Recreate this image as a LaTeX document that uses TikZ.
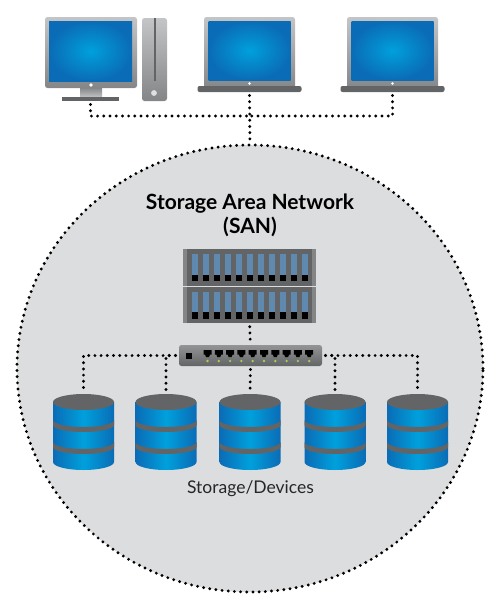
\documentclass[tikz,border=0pt]{standalone}
\usepackage{fontspec}
\setmainfont{Lato}
\usetikzlibrary{shapes.geometric}
\definecolor{sanfill}{HTML}{DCDDDF}
\definecolor{scrmid}{HTML}{00A0DC}
\definecolor{scredge}{HTML}{0A6CB6}
\definecolor{dkgray}{HTML}{636466}
\definecolor{ltgray}{HTML}{C4C5C7}
\definecolor{mdgray}{HTML}{848587}
\definecolor{bladeblue}{HTML}{5F89AE}
\definecolor{ledgreen}{HTML}{A6D24E}

\begin{document}
\begin{tikzpicture}[
  x=1pt, y=-1pt,
  casing/.style={shape=rectangle, top color=ltgray, bottom color=mdgray, rounded corners=2.5pt,
    inner sep=0pt, outer sep=0pt},
  screen/.style={shape=rectangle, inner color=scrmid, outer color=scredge, inner sep=0pt, outer sep=0pt},
  foot/.style={shape=rectangle, fill=dkgray, inner sep=0pt, outer sep=0pt},
  rack/.style={shape=rectangle, fill=dkgray, inner sep=0pt, outer sep=0pt,
    minimum width=133pt, minimum height=36.5pt},
  dots/.style={line width=3.2pt, line cap=round, dash pattern=on 0pt off 6.2pt, black},
  wire/.style={dots, shorten <=3.5pt, shorten >=2pt},
  dbstack/.pic={
    \path[left color=scredge, right color=scredge, middle color=scrmid]
      (-30.5,0) -- (-30.5,60) arc[start angle=180, end angle=0, x radius=30.5, y radius=8]
      -- (30.5,0) -- cycle;
    \fill[dkgray] (-30.5,18) arc[start angle=180, end angle=0, x radius=30.5, y radius=7]
      -- (30.5,23) arc[start angle=0, end angle=180, x radius=30.5, y radius=7] -- cycle;
    \fill[dkgray] (-30.5,40) arc[start angle=180, end angle=0, x radius=30.5, y radius=7]
      -- (30.5,45) arc[start angle=0, end angle=180, x radius=30.5, y radius=7] -- cycle;
    \node[ellipse, fill=dkgray, inner sep=0pt, outer sep=0pt,
      minimum width=61pt, minimum height=16pt] (-top) at (0,0) {};
  },
]
\useasboundingbox (0,0) rectangle (500,613);

% === Storage Area Network circle ===
\node[ellipse, draw, dots, fill=sanfill, inner sep=0pt, outer sep=0pt, minimum width=466pt, minimum height=447pt]
  (san) at (250,368.5) {};

% === Desktop: monitor and tower ===
\node[foot, minimum width=22pt, minimum height=10pt, top color=mdgray, bottom color=ltgray] (monneck) at (91,92.5) {};
\node[foot, minimum width=57pt, minimum height=4pt] (monfoot) at (90.5,99) {};
\node[casing, minimum width=92pt, minimum height=71pt] (monitor) at (91,52.5) {};
\node[screen, minimum width=83pt, minimum height=60pt] (monscreen) at (90.5,51) {};
\fill[white] (91,85) circle (1.9);
\node[casing, minimum width=25pt, minimum height=83pt] (tower) at (154.5,59.5) {};
\fill[dkgray] (153.5,18) rectangle (155.5,81);
\fill[white!88!black] (154,93) circle (2.9);

% === Laptops ===
\foreach \n/\cx in {lap1/249.5, lap2/392.5} {
  \node[casing, minimum width=91pt, minimum height=73pt] (\n lid) at (\cx,53.5) {};
  \node[screen, minimum width=82pt, minimum height=59pt] (\n screen) at (\cx,50.5) {};
  \fill[white] (\cx,83.5) circle (1.4);
  \node[foot, rounded corners=2pt, minimum width=104pt, minimum height=6pt] (\n) at (\cx,89) {};
}

% === Title ===
\node[font=\fontsize{21}{24}\selectfont\bfseries, align=center, text=black] (title) at (250,215.5)
  {Storage Area Network\\(SAN)};

% === Server racks ===
\node[rack] (rack1) at (249.5,267.5) {};
\node[rack] (rack2) at (249.5,305) {};
\foreach \r in {rack1, rack2} {
  \fill[mdgray] (\r.north west) rectangle ([xshift=4pt]\r.south west);
  \fill[mdgray] ([xshift=-4pt]\r.north east) rectangle (\r.south east);
  \foreach \i in {0,...,10} {
    \fill[bladeblue] ([xshift=9pt+11*\i pt, yshift=-5pt]\r.north west) rectangle ++(6,20.5);
    \fill[black] ([xshift=9pt+11*\i pt, yshift=-25.5pt]\r.north west) rectangle ++(6,6.5);
  }
}

% === Switch ===
\node[casing, top color=ltgray!75!black, bottom color=dkgray, minimum width=143pt, minimum height=21pt]
  (switch) at (250.5,355.5) {};
\fill[black] (186,353) rectangle (192,359);
\foreach \i in {0,...,9} {
  \fill[black] (203.5+11.3*\i,350) -- ++(8,0) -- ++(0,4.5) -- ++(-1.5,0) -- ++(-1,2.5) -- ++(-3,0) -- ++(-1,-2.5) -- ++(-1.5,0) -- cycle;
  \fill[ledgreen] (207.5+11.3*\i,361) circle (1.3);
}

% === Storage cylinders ===
\pic (db1) at (83.5,402) {dbstack};
\pic (db2) at (166,402) {dbstack};
\pic (db3) at (250,402) {dbstack};
\pic (db4) at (335,402) {dbstack};
\pic (db5) at (417.5,402) {dbstack};

\node[font=\fontsize{17.5}{20}\selectfont, text=black!85] (devlabel) at (250.5,489) {Storage/Devices};

% === Top wiring ===
\coordinate (hostbus) at (249.5,116);
\draw[wire] (monfoot.south) |- (hostbus);
\draw[wire] (lap2.south) |- (hostbus);
\draw[wire] (lap1.south) -- (san.north);

% === Wiring inside the circle ===
\draw[wire] (rack2.south) -- (switch.north);
\draw[wire] (switch.south) -- (db3-top.north);
\draw[wire] (switch.west) -| (db1-top.north);
\draw[wire] (switch.west) -| (db2-top.north);
\draw[wire] (switch.east) -| (db4-top.north);
\draw[wire] (switch.east) -| (db5-top.north);
\end{tikzpicture}
\end{document}
